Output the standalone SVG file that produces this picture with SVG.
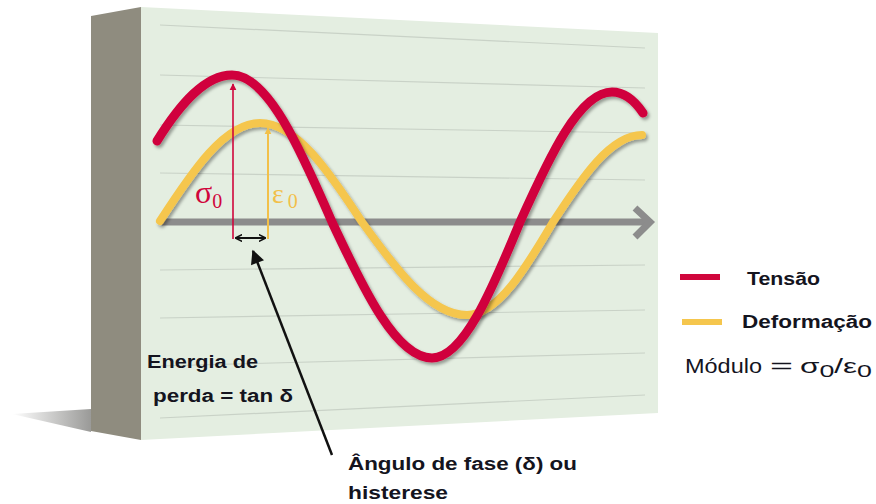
<svg xmlns="http://www.w3.org/2000/svg" width="876" height="504" viewBox="0 0 876 504">
<style>
.grid{stroke:#c9d2c7;stroke-width:1.2;fill:none}
.curve{fill:none;stroke-linecap:round;filter:url(#ds)}
.lbl{font-family:"Liberation Sans",Arial,sans-serif;font-weight:bold;font-size:18px;fill:#14141e}
.mod{font-family:"Liberation Sans",Arial,sans-serif;font-size:20px;fill:#14141e}
.greek{font-family:"Liberation Serif","Times New Roman",serif}
</style>
<defs>
<linearGradient id="sh" x1="0" y1="0" x2="1" y2="0">
<stop offset="0" stop-color="#ffffff"/>
<stop offset="1" stop-color="#9a9a98"/>
</linearGradient>
<filter id="ds" x="-10%" y="-10%" width="120%" height="130%">
<feDropShadow dx="2" dy="2.5" stdDeviation="1.5" flood-color="#000" flood-opacity="0.35"/>
</filter>
<marker id="ahR" viewBox="0 0 10 10" refX="9" refY="5" markerWidth="7" markerHeight="9" markerUnits="userSpaceOnUse" orient="auto"><path d="M0,0 L10,5 L0,10 z" fill="#d0063c"/></marker>
<marker id="ahY" viewBox="0 0 10 10" refX="9" refY="5" markerWidth="7" markerHeight="9" markerUnits="userSpaceOnUse" orient="auto"><path d="M0,0 L10,5 L0,10 z" fill="#f2c04a"/></marker>
<marker id="ahK" viewBox="0 0 10 10" refX="9" refY="5" markerWidth="7" markerHeight="8" markerUnits="userSpaceOnUse" orient="auto-start-reverse"><path d="M0,0 L10,5 L0,10" fill="none" stroke="#111" stroke-width="2.2"/></marker>
<marker id="ahB" viewBox="0 0 10 10" refX="9" refY="5" markerWidth="16" markerHeight="14" markerUnits="userSpaceOnUse" orient="auto"><path d="M0,0 L10,5 L0,10 z" fill="#111"/></marker>
</defs>
<g id="panel">
<polygon points="12,414 91,409 91,432" fill="url(#sh)"/>
<polygon points="91,16 141,7 141,440 91,431" fill="#8f8c7f"/>
<polygon points="141,7 658,33 658,413 141,440" fill="#e4eee1"/>
<g class="grid">
<line x1="160" y1="25" x2="645" y2="48"/>
<line x1="160" y1="75" x2="645" y2="88"/>
<line x1="160" y1="125" x2="645" y2="133"/>
<line x1="160" y1="173" x2="645" y2="180"/>
<line x1="160" y1="270" x2="645" y2="265"/>
<line x1="160" y1="318" x2="645" y2="310"/>
<line x1="160" y1="366" x2="645" y2="353"/>
<line x1="160" y1="418" x2="645" y2="395"/>
</g>
</g>
<g id="axis">
<line x1="162" y1="222" x2="648" y2="222" stroke="#8c8c8c" stroke-width="7"/>
<polyline points="635,208 650,222 635,237" fill="none" stroke="#8c8c8c" stroke-width="7" stroke-linejoin="miter"/>
</g>
<g id="strain-curve">
<path class="curve" stroke="#f5c64d" stroke-width="8" d="M160,221 C192.5,170.9 224.6,123 260,123 C296.1,123 328.8,171.4 362,222 C396.1,269.5 429.9,315 467,315 C497.4,315 525,269.5 553,222 C581.9,177.6 610.5,135 642,135"/>
</g>
<g id="stress-curve">
<path class="curve" stroke="#d0063c" stroke-width="9" d="M157,141 C180,104 205,75 232,75 C267.4,75 299.5,146.9 332,222 C364.5,291.5 396.6,358 432,358 C463.1,358 491.4,291.5 520,222 C549.9,155.6 579.5,92 612,92 C625,92 635,101 643,113"/>
</g>
<g id="connectors">
<line x1="233" y1="239" x2="233" y2="84" stroke="#d0063c" stroke-width="1.6" marker-end="url(#ahR)"/>
<line x1="268" y1="239" x2="268" y2="128" stroke="#f2c04a" stroke-width="2" marker-end="url(#ahY)"/>
<line x1="236" y1="238" x2="265" y2="238" stroke="#111" stroke-width="2" marker-start="url(#ahK)" marker-end="url(#ahK)"/>
<line x1="332" y1="455" x2="253" y2="251" stroke="#111" stroke-width="2.5" marker-end="url(#ahB)"/>
</g>
<g id="sigma-label">
<text class="greek" x="195" y="203" font-size="32" fill="#d0063c">σ<tspan font-size="20" dy="5">0</tspan></text>
</g>
<g id="epsilon-label">
<text class="greek" x="272" y="203" font-size="28" fill="#f2c04a">ε<tspan font-size="20" dx="4" dy="5">0</tspan></text>
</g>
<g id="loss-energy">
<text class="lbl" x="147" y="368" textLength="111" lengthAdjust="spacingAndGlyphs">Energia de</text>
<text class="lbl" x="153" y="402" textLength="140" lengthAdjust="spacingAndGlyphs">perda = tan δ</text>
</g>
<g id="phase-angle">
<text class="lbl" x="348" y="470" textLength="229" lengthAdjust="spacingAndGlyphs">Ângulo de fase  (δ) ou</text>
<text class="lbl" x="348" y="499" textLength="100" lengthAdjust="spacingAndGlyphs">histerese</text>
</g>
<g id="legend">
<line x1="680" y1="277" x2="720" y2="277" stroke="#d0063c" stroke-width="6"/>
<text class="lbl" x="747" y="285" textLength="73" lengthAdjust="spacingAndGlyphs">Tensão</text>
<line x1="682" y1="322" x2="722" y2="322" stroke="#f5c64d" stroke-width="6"/>
<text class="lbl" x="742" y="328" textLength="130" lengthAdjust="spacingAndGlyphs">Deformação</text>
<text class="mod" x="685" y="373" textLength="77" lengthAdjust="spacingAndGlyphs">Módulo</text>
<text class="mod" x="770" y="373" textLength="23" lengthAdjust="spacingAndGlyphs">=</text>
<text class="mod" x="800" y="373" font-size="22" textLength="72" lengthAdjust="spacingAndGlyphs">σ<tspan font-size="17" dy="4">0</tspan><tspan dy="-4">/ε</tspan><tspan font-size="17" dy="4">0</tspan></text>
</g>
</svg>
